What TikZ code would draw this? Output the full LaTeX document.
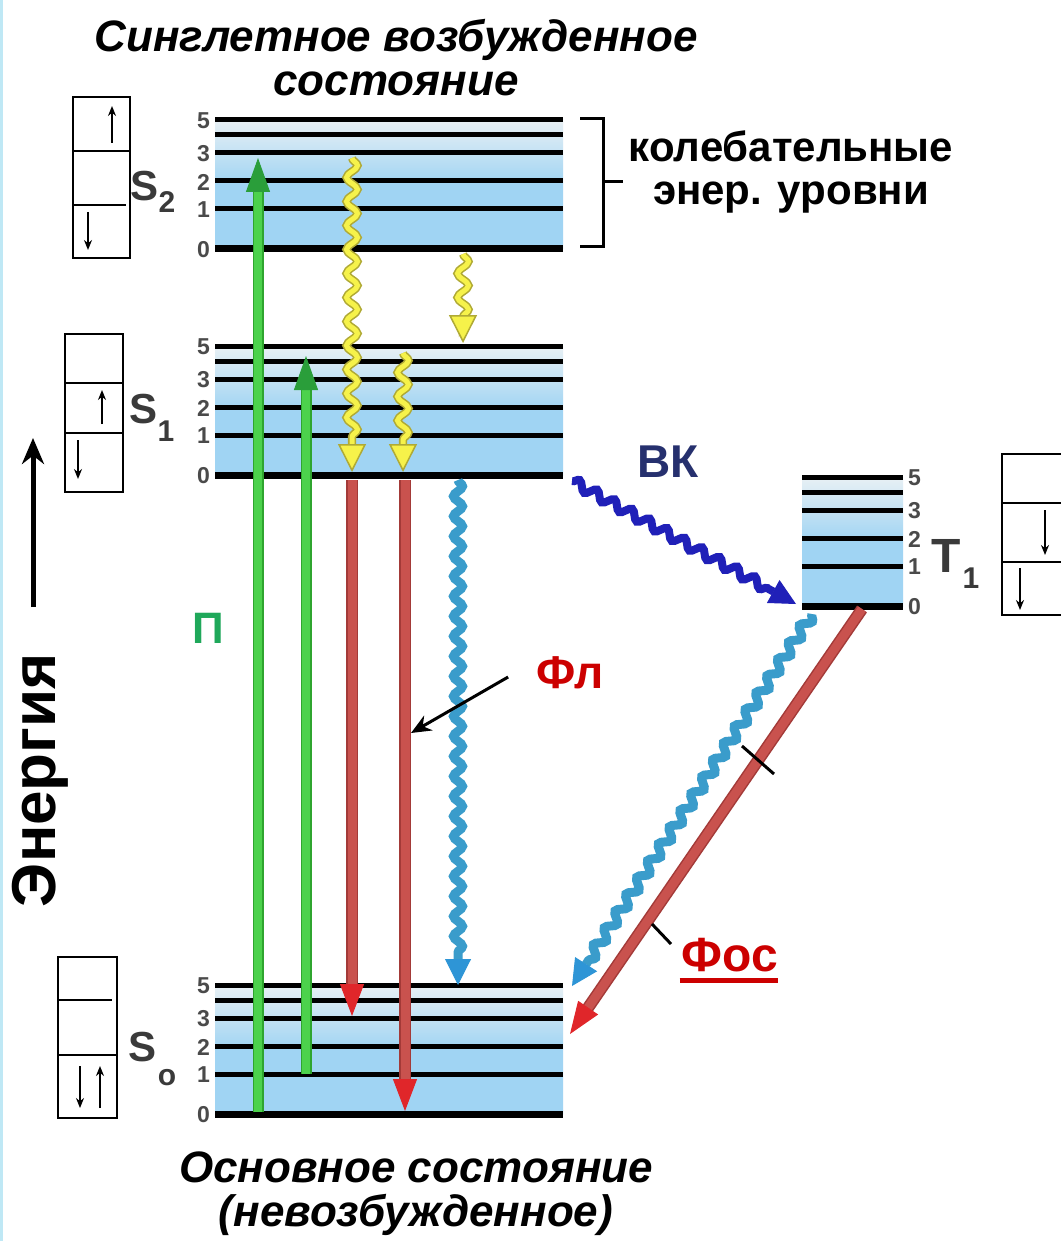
\documentclass[tikz,border=0pt]{standalone}
\usepackage{fontspec}
\setmainfont{Liberation Sans}
\usetikzlibrary{arrows.meta,decorations.pathmorphing}
\definecolor{lvltop}{HTML}{E8F0F4}
\definecolor{lvlblue}{HTML}{A0D4F3}
\definecolor{digitgray}{HTML}{4A4A4A}
\definecolor{sgray}{HTML}{3A3A3A}
\definecolor{absgreen}{HTML}{4CD24C}
\definecolor{absedge}{HTML}{2FA52F}
\definecolor{abshead}{HTML}{2A9E3A}
\definecolor{flred}{HTML}{C9524E}
\definecolor{fledge}{HTML}{A33A38}
\definecolor{flhead}{HTML}{E0262A}
\definecolor{wyellow}{HTML}{F6F24A}
\definecolor{wolive}{HTML}{B0AA35}
\definecolor{icblue}{HTML}{3A9CCB}
\definecolor{ichead}{HTML}{2E95D6}
\definecolor{iscblue}{HTML}{2020B8}
\definecolor{vknavy}{HTML}{26306E}
\definecolor{pgreen}{HTML}{1FA85A}
\definecolor{labred}{HTML}{CC0000}
\definecolor{edgecyan}{HTML}{BFE8F5}

\newcommand\energylevels[3]{%
  \shade[top color=lvltop, bottom color=lvlblue, middle color=lvlblue] (#1,#3) rectangle (#2,#3+129);
  \foreach \o in {0,15,33,61,89} \draw[lvl] (#1,#3+\o) -- (#2,#3+\o);
  \draw[lvlzero] (#1,#3+129) -- (#2,#3+129);
}

\begin{document}
\begin{tikzpicture}[x=1pt,y=-1pt,
  lvl/.style={line width=5pt, draw=black},
  lvlzero/.style={line width=7pt, draw=black},
  digit/.style={font=\fontsize{23}{24}\selectfont\bfseries, text=digitgray, inner sep=0pt},
  spin/.style={line width=1.8pt, draw=black},
  spinarrow/.style={line width=1.6pt, draw=black, -{Stealth[length=10pt,width=8pt]}},
  titletext/.style={font=\fontsize{44}{44}\selectfont\bfseries\itshape, inner sep=0pt, align=center},
  boldtext/.style={font=\fontsize{42}{43}\selectfont\bfseries, inner sep=0pt, align=center},
  statelab/.style={font=\fontsize{42}{46}\selectfont\bfseries, text=sgray, inner sep=0pt},
  statesub/.style={font=\fontsize{30}{32}\selectfont\bfseries, text=sgray, inner sep=0pt},
  absorb/.style={draw=absedge, double=absgreen, double distance=8pt, line width=1.5pt,
    -{Triangle[length=34pt,width=24pt,fill=abshead,color=abshead,line width=1pt]}},
  emit/.style={draw=fledge, double=flred, double distance=9pt, line width=1.5pt,
    -{Triangle[length=32pt,width=24pt,fill=flhead,color=flhead,line width=1pt]}},
  wave/.style={decorate, decoration={snake, amplitude=4.5pt, segment length=20pt, post length=26pt}},
  ywave/.style={decorate, decoration={snake, amplitude=5.5pt, segment length=24pt, post length=26pt}},
  yellowwave/.style={ywave, draw=wolive, double=wyellow, double distance=5pt, line width=1.6pt,
    -{Triangle[length=28pt,width=28pt,fill=wyellow,color=wolive,line width=1.5pt]}},
  bluewave/.style={wave, draw=icblue, line width=9pt,
    -{Triangle[length=26pt,width=26pt,fill=ichead,color=ichead,line width=1pt]}},
  iscwave/.style={wave, draw=iscblue, line width=8pt,
    -{Triangle[length=26pt,width=26pt,fill=iscblue,color=iscblue,line width=1pt]}},
]
\useasboundingbox (0,0) rectangle (1060,1241);
\fill[white] (0,0) rectangle (1060,1241);
\draw[edgecyan, line width=3pt] (1.5,0) -- (1.5,1241);

% ---- energy level blocks
\energylevels{215}{563}{120}
\energylevels{215}{563}{346}
\energylevels{215}{563}{985}
\energylevels{802}{903}{477}

\foreach \o/\d in {0/5,33/3,61/2,89/1,129/0}{
  \node[digit, anchor=east] (S2-\d) at (210,121+\o) {\d};
  \node[digit, anchor=east] (S1-\d) at (210,347+\o) {\d};
  \node[digit, anchor=east] (S0-\d) at (210,986+\o) {\d};
  \node[digit, anchor=west] (T1-\d) at (908,478+\o) {\d};
}

% ---- state labels
\node[statelab] (S2lab) at (145,186) {S};
\node[statesub] (S2sub) at (167,202) {2};
\node[statelab] (S1lab) at (144,409) {S};
\node[statesub] (S1sub) at (166,431) {1};
\node[statelab] (S0lab) at (143,1047) {S};
\node[statesub] (S0sub) at (167,1078) {o};
\node[font=\fontsize{48}{50}\selectfont\bfseries, text=sgray, inner sep=0pt] (T1lab) at (946,556) {T};
\node[statesub] (T1sub) at (971,578) {1};

% ---- spin boxes
\draw[spin] (73,97) rectangle (130,258);
\draw[spin] (73,151) -- (130,151);
\draw[spin] (73,205) -- (126,205);
\draw[spinarrow] (112,143) -- (112,106);
\draw[spinarrow] (88,212) -- (88,250);

\draw[spin] (65,334) rectangle (123,492);
\draw[spin] (65,383) -- (123,383);
\draw[spin] (65,433) -- (123,433);
\draw[spinarrow] (102,424) -- (102,390);
\draw[spinarrow] (78,440) -- (78,479);

\draw[spin] (58,957) rectangle (117,1118);
\draw[spin] (58,1000) -- (112,1000);
\draw[spin] (58,1055) -- (117,1055);
\draw[spinarrow] (80,1066) -- (80,1108);
\draw[spinarrow] (100,1108) -- (100,1066);

\draw[spin] (1062,454) -- (1002,454) -- (1002,615) -- (1062,615);
\draw[spin] (1002,503) -- (1062,503);
\draw[spin] (1002,562) -- (1062,562);
\draw[spinarrow] (1045,510) -- (1045,555);
\draw[spinarrow] (1020,568) -- (1020,610);

% ---- bracket and its label
\draw[line width=3pt] (580,119) -- (603,119) -- (603,247) -- (580,247);
\draw[line width=3pt] (603,182) -- (623,182);
\node[boldtext] (vib) at (791,172) {колебательные\\энер. уровни};

% ---- titles
\node[titletext] (title) at (396,58) {Синглетное возбужденное\\состояние};
\node[titletext] (bottom) at (416,1194) {Основное состояние\\(невозбужденное)};

% ---- energy axis
\node[font=\fontsize{62}{64}\selectfont\bfseries, rotate=90, inner sep=0pt] (energy) at (40,780) {Энергия};
\coordinate (axisA) at (33,607);
\coordinate (axisB) at (33,438);
\draw[line width=5pt, -{Stealth[length=26pt,width=22pt]}] (axisA) -- (axisB);

% ---- endpoints
\coordinate (g1a) at (258,1112); \coordinate (g1b) at (258,158);
\coordinate (g2a) at (306,1074); \coordinate (g2b) at (306,356);
\coordinate (y1a) at (352,158);  \coordinate (y1b) at (352,472);
\coordinate (y2a) at (403,353);  \coordinate (y2b) at (403,472);
\coordinate (y3a) at (463,254);  \coordinate (y3b) at (463,343);
\coordinate (r1a) at (352,480);  \coordinate (r1b) at (352,1016);
\coordinate (r2a) at (405,480);  \coordinate (r2b) at (405,1111);
\coordinate (b1a) at (458,480);  \coordinate (b1b) at (458,985);
\coordinate (iscA) at (572,481); \coordinate (iscB) at (796,604);
\coordinate (b2a) at (812,614);  \coordinate (b2b) at (572,986);
\coordinate (phA) at (862,609);  \coordinate (phB) at (570,1034);

% ---- transitions
\draw[absorb] (g1a) -- (g1b);
\draw[absorb] (g2a) -- (g2b);
\draw[emit] (r1a) -- (r1b);
\draw[emit] (r2a) -- (r2b);
\draw[bluewave] (b1a) -- (b1b);
\draw[yellowwave] (y1a) -- (y1b);
\draw[yellowwave] (y2a) -- (y2b);
\draw[yellowwave] (y3a) -- (y3b);
\draw[iscwave] (iscA) -- (iscB);
\draw[bluewave] (b2a) -- (b2b);
\draw[emit] (phA) -- (phB);

% ---- ticks on phosphorescence
\coordinate (t1a) at (742,746); \coordinate (t1b) at (774,774);
\coordinate (t2a) at (652,924); \coordinate (t2b) at (671,944);
\draw[line width=3pt] (t1a) -- (t1b);
\draw[line width=3pt] (t2a) -- (t2b);

% ---- labels of transitions
\node[font=\fontsize{44}{46}\selectfont\bfseries, text=pgreen, inner sep=0pt] (P) at (208,628) {П};
\node[font=\fontsize{46}{48}\selectfont\bfseries, text=vknavy, inner sep=0pt] (VK) at (668,462) {ВК};
\node[font=\fontsize{46}{48}\selectfont\bfseries, text=labred, inner sep=0pt] (Fl) at (570,673) {Фл};
\node[font=\fontsize{48}{50}\selectfont\bfseries, text=labred, inner sep=0pt] (Fos) at (730,955) {Фос};
\draw[labred, line width=5pt] (Fos.south west) ++(-2,8) coordinate (uA) -- (uA -| Fos.south east) coordinate (uB);
\coordinate (flptr) at (411,733);
\draw[line width=3pt, -{Stealth[length=20pt,width=17pt]}] (Fl.west) ++(-28,4) coordinate (flA) -- (flptr);
\end{tikzpicture}
\end{document}
